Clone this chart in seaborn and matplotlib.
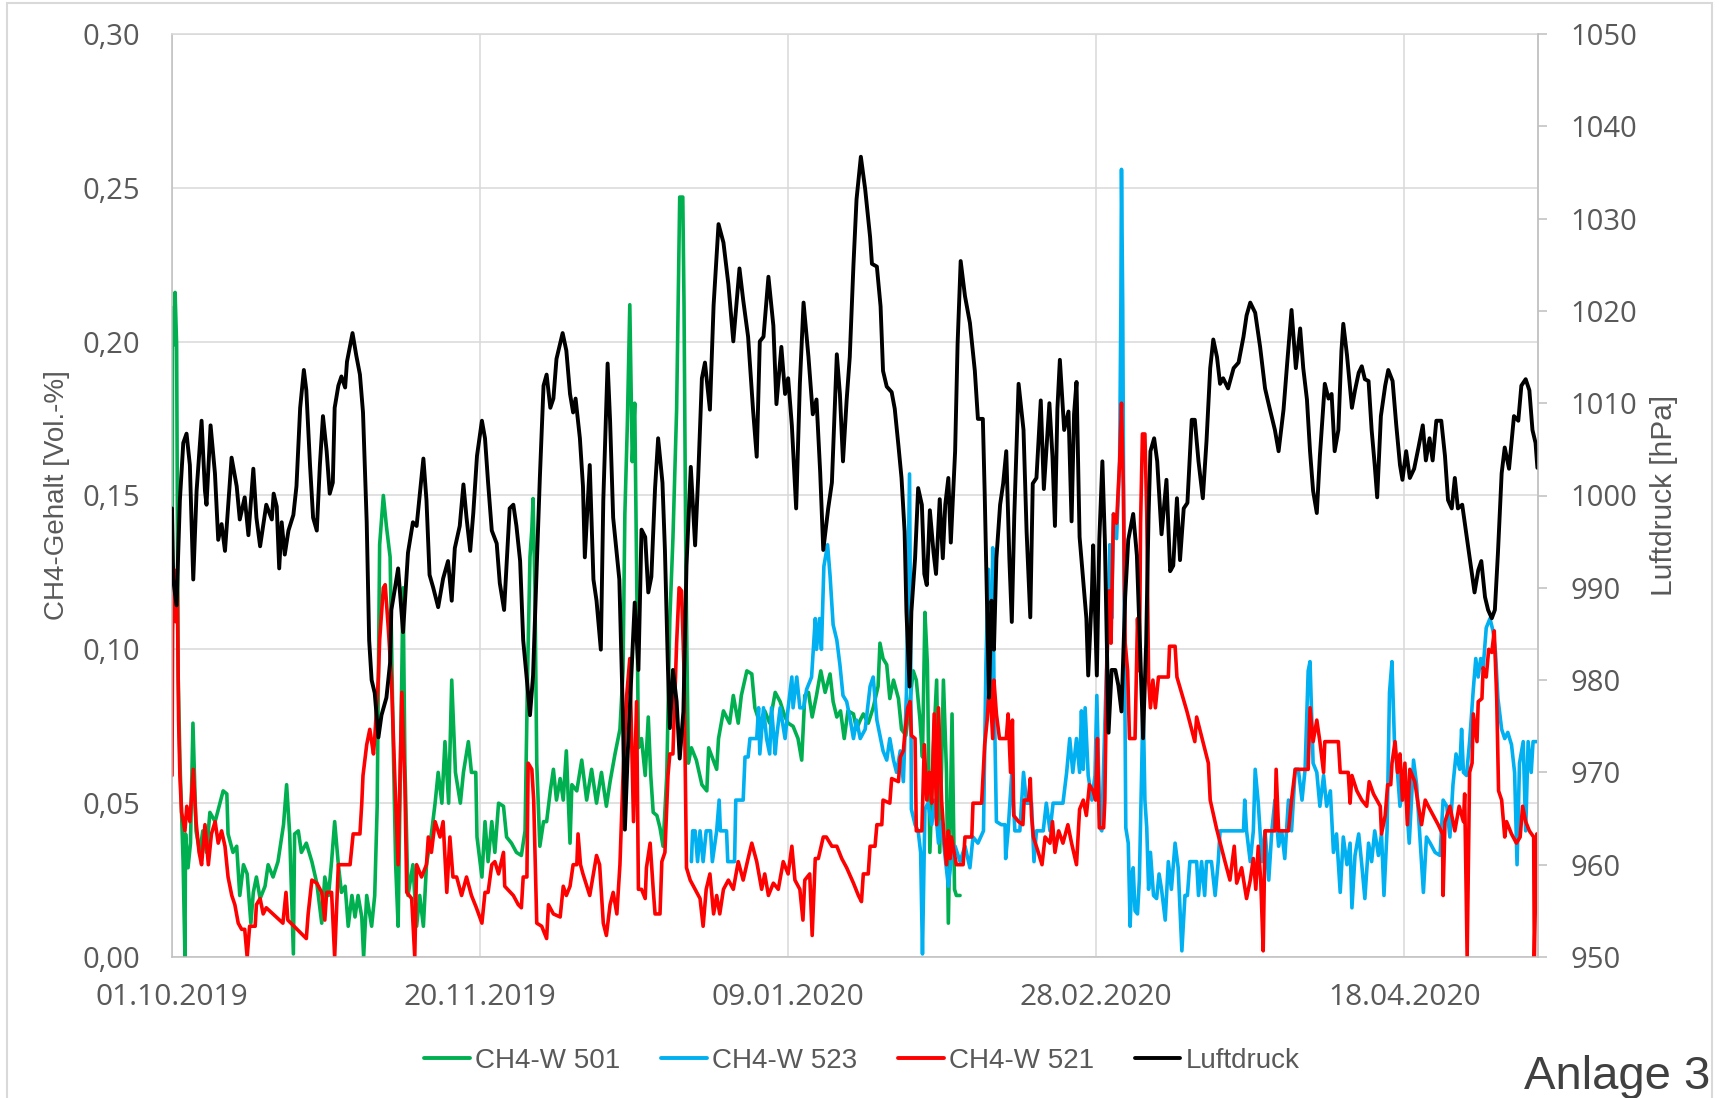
# ============================================================
# plot.py - CH4-Gehalt und Luftdruck (Anlage 3)
# ============================================================

import numpy as np
import pandas as pd
import matplotlib
matplotlib.use("Agg")
import matplotlib.pyplot as plt
from matplotlib.ticker import FuncFormatter, MultipleLocator
from matplotlib.lines import Line2D
from matplotlib.patches import Rectangle
import matplotlib.dates as mdates
import seaborn as sns

# ============================================================
# Data (days after 01.10.2019)
# ============================================================

START = pd.Timestamp("2019-10-01")
TICK_DAYS = [0, 50, 100, 150, 200]
X_END_DAYS = 221.7

p_days = [0.0, 0.2, 0.74, 1.28, 1.83, 2.36, 2.9, 3.45, 3.99, 4.8, 5.35, 5.6, 6.26, 6.97, 7.5, 8.05, 8.6, 9.67, 10.5, 11.0,
          11.8, 12.4, 13.2, 13.7, 14.3, 15.3, 16.2, 16.5, 17.0, 17.4, 17.8, 18.3, 18.9, 19.7, 20.2, 20.8, 21.4, 21.8, 22.4, 22.9,
          23.5, 24.0, 24.5, 25.1, 25.6, 26.1, 26.4, 27.0, 27.5, 28.1, 28.4, 29.3, 29.9, 30.5, 31.0, 31.6, 32.0, 32.4, 32.9, 33.5,
          34.0, 34.8, 35.4, 35.6, 36.2, 36.7, 37.5, 38.3, 39.1, 39.7, 40.8, 41.3, 41.8, 42.4, 43.2, 44.0, 44.8, 45.4, 45.9, 46.7,
          47.3, 47.8, 48.4, 48.9, 49.5, 50.3, 50.8, 51.3, 51.9, 52.7, 53.2, 53.9, 54.3, 54.8, 55.4, 55.9, 56.5, 57.0, 57.6, 58.1,
          58.6, 59.2, 59.7, 60.3, 60.8, 61.4, 61.9, 62.4, 63.4, 64.0, 64.6, 65.1, 65.5, 66.2, 66.7, 67.0, 67.8, 68.4, 68.9, 69.6,
          70.0, 70.7, 71.1, 71.6, 72.6, 73.2, 73.5, 74.0, 74.6, 75.1, 75.7, 76.2, 76.8, 77.3, 77.8, 78.4, 78.9, 79.6, 80.0, 80.5,
          80.8, 81.3, 81.9, 82.4, 83.0, 83.5, 84.2, 84.9, 85.4, 86.0, 86.5, 87.3, 87.9, 88.7, 89.5, 90.3, 91.1, 92.1, 92.7, 93.5,
          94.3, 94.9, 95.4, 96.0, 96.8, 97.6, 98.1, 98.9, 99.5, 100.0, 100.6, 101.3, 101.9, 102.5, 103.3, 104.0, 104.6, 105.2, 105.7, 106.5,
          107.1, 107.9, 108.4, 108.9, 109.5, 110.0, 110.6, 111.1, 111.8, 112.5, 113.3, 113.6, 114.4, 115.0, 115.4, 116.0, 116.8, 117.3, 117.9, 118.4,
          118.9, 119.2, 119.7, 120.0, 120.6, 121.1, 121.7, 122.1, 122.5, 123.0, 123.6, 124.0, 124.6, 125.1, 125.5, 126.0, 126.4, 127.1, 127.5, 128.0,
          128.7, 129.5, 130.3, 130.8, 131.6, 131.9, 132.3, 132.6, 133.0, 133.4, 133.8, 134.4, 134.9, 135.4, 135.9, 136.3, 136.7, 137.4, 138.2, 138.7,
          139.3, 139.7, 140.3, 141.0, 141.5, 142.4, 142.9, 143.3, 143.7, 144.1, 144.8, 145.5, 146.0, 146.4, 146.8, 147.3, 147.9, 148.4, 148.7, 149.3,
          149.5, 150.1, 150.5, 151.0, 151.4, 152.0, 152.5, 153.1, 153.6, 154.1, 154.7, 155.2, 156.0, 156.6, 157.1, 157.6, 158.1, 158.5, 158.8, 159.4,
          159.9, 160.6, 161.4, 162.0, 162.5, 163.1, 163.6, 164.2, 164.8, 165.5, 166.0, 166.6, 167.3, 167.9, 168.5, 169.0, 169.6, 170.1, 170.6, 171.4,
          172.3, 173.1, 173.9, 174.4, 175.0, 175.8, 176.6, 177.4, 178.2, 179.0, 179.6, 180.4, 181.0, 181.7, 182.4, 183.1, 183.6, 184.2, 184.7, 185.2,
          185.8, 186.3, 187.1, 187.7, 188.2, 188.7, 189.3, 189.8, 190.1, 190.7, 191.5, 192.0, 192.6, 193.1, 193.6, 194.2, 194.7, 195.2, 195.6, 196.2,
          196.9, 197.4, 198.1, 198.7, 199.3, 199.7, 200.3, 200.9, 201.6, 202.3, 203.0, 203.5, 204.1, 204.6, 205.2, 206.0, 206.6, 207.1, 207.7, 208.2,
          208.7, 209.4, 210.1, 210.6, 211.4, 212.0, 212.5, 213.1, 213.6, 214.2, 214.7, 215.2, 215.8, 216.3, 217.0, 217.8, 218.5, 219.0, 219.7, 220.3,
          220.8, 221.3, 221.6]
p_vals = [998.6, 990.9, 988.1, 999.5, 1005.7, 1006.7, 1003.3, 990.9, 1000.5, 1008.1, 1000.5, 999.0, 1007.6, 1002.4, 995.2, 996.9, 994.0, 1004.1, 1001.0, 997.4,
          999.8, 995.7, 1002.9, 997.6, 994.5, 999.0, 997.4, 1000.2, 998.8, 992.1, 997.1, 993.6, 996.2, 997.9, 1001.0, 1009.5, 1013.6, 1011.4, 1003.3, 997.6,
          996.2, 1003.3, 1008.6, 1004.8, 1000.2, 1001.4, 1009.5, 1011.9, 1012.9, 1011.7, 1014.5, 1017.6, 1015.2, 1013.1, 1009.0, 997.1, 984.3, 980.0, 978.6, 973.8,
          976.2, 978.1, 981.9, 987.6, 990.0, 992.1, 985.2, 993.8, 997.1, 996.7, 1004.0, 999.5, 991.4, 990.0, 987.9, 991.0, 992.9, 988.6, 994.3, 996.7,
          1001.2, 997.6, 994.0, 998.1, 1004.3, 1008.1, 1006.2, 1001.4, 996.2, 994.8, 990.5, 987.6, 992.4, 998.6, 999.0, 996.7, 992.9, 984.3, 980.0, 976.2,
          980.5, 992.4, 1001.9, 1011.9, 1013.1, 1009.5, 1010.5, 1014.8, 1017.6, 1015.7, 1011.0, 1009.0, 1010.5, 1006.2, 1001.0, 993.3, 1003.3, 990.9, 988.6, 983.3,
          999.5, 1014.3, 1008.1, 997.6, 990.9, 975.7, 963.8, 972.6, 981.1, 988.4, 981.1, 996.3, 995.5, 989.5, 991.2, 1000.8, 1006.2, 1001.4, 994.1, 981.1,
          974.8, 981.1, 977.7, 971.5, 976.6, 992.4, 1003.1, 994.6, 1002.0, 1012.7, 1014.4, 1009.3, 1020.6, 1029.4, 1027.4, 1022.9, 1016.7, 1024.6, 1021.2, 1017.2,
          1009.3, 1004.2, 1016.7, 1017.2, 1023.7, 1018.4, 1009.9, 1016.1, 1011.0, 1012.7, 1007.6, 998.6, 1012.1, 1020.9, 1015.0, 1008.8, 1010.4, 1002.5, 994.1, 998.6,
          1001.4, 1015.3, 1011.0, 1003.7, 1010.4, 1015.0, 1025.0, 1032.1, 1036.7, 1033.2, 1028.0, 1025.1, 1024.8, 1020.5, 1013.5, 1011.8, 1011.2, 1009.4, 1005.4, 1001.9,
          996.1, 987.4, 979.3, 987.4, 993.2, 1000.8, 999.0, 991.5, 990.3, 998.4, 993.8, 991.5, 999.6, 993.2, 999.0, 1001.9, 994.9, 1004.8, 1016.4, 1025.4,
          1021.6, 1018.7, 1013.5, 1008.3, 1008.3, 1000.2, 987.4, 978.1, 988.6, 983.3, 993.2, 999.0, 1001.3, 1004.8, 993.2, 986.3, 997.8, 1012.1, 1007.1, 996.1,
          986.8, 1001.3, 1001.9, 1010.3, 1000.7, 1010.0, 1004.2, 996.7, 1009.4, 1014.7, 1007.1, 1009.1, 997.2, 1008.8, 1012.3, 995.5, 990.7, 986.7, 980.5, 989.5,
          994.6, 980.5, 995.2, 1003.7, 995.2, 974.3, 981.1, 981.1, 979.4, 976.6, 989.0, 995.2, 998.0, 993.5, 983.9, 973.7, 983.9, 998.0, 1004.8, 1006.2,
          1003.7, 995.8, 1001.7, 991.8, 992.4, 999.7, 993.0, 998.6, 999.2, 1008.2, 1008.2, 1003.7, 999.7, 1005.9, 1013.8, 1016.9, 1015.0, 1012.1, 1012.7, 1011.6,
          1013.8, 1014.4, 1017.2, 1019.5, 1020.9, 1019.8, 1016.1, 1011.6, 1009.3, 1007.1, 1004.8, 1009.3, 1014.4, 1020.1, 1013.8, 1018.1, 1013.8, 1010.4, 1004.8, 1000.5,
          998.1, 1004.3, 1012.1, 1010.5, 1011.0, 1004.8, 1007.1, 1015.7, 1018.6, 1015.2, 1009.5, 1011.4, 1013.3, 1014.0, 1012.6, 1012.4, 1007.1, 1003.3, 999.8, 1008.6,
          1011.9, 1013.6, 1012.4, 1007.6, 1003.3, 1001.7, 1004.8, 1001.9, 1002.9, 1005.2, 1007.6, 1003.8, 1006.2, 1003.8, 1008.1, 1008.1, 1004.3, 999.5, 998.6, 1001.9,
          998.6, 999.0, 995.7, 993.3, 989.5, 991.9, 992.9, 989.0, 987.6, 986.7, 987.6, 993.8, 1002.4, 1005.2, 1002.9, 1008.6, 1008.1, 1011.9, 1012.6, 1011.4,
          1007.1, 1005.7, 1003.0]

w501_days = [0.0, 0.1, 0.3, 0.5, 0.75, 1.0, 1.3, 1.8, 2.1, 2.2, 2.6, 3.0, 3.4, 3.9, 4.5, 5.0, 5.6, 6.15, 7.0, 8.3,
             8.9, 9.1, 9.9, 10.5, 11.0, 11.6, 12.2, 12.8, 13.2, 13.7, 14.3, 15.1, 15.6, 16.4, 17.2, 18.1, 18.6, 19.1, 19.7, 19.9,
             20.5, 21.0, 21.8, 22.7, 23.5, 24.3, 24.8, 25.4, 25.9, 26.4, 27.0, 27.5, 28.1, 28.6, 29.2, 29.7, 30.2, 30.8, 31.1, 31.6,
             32.4, 32.9, 33.3, 33.7, 34.3, 34.8, 35.4, 35.9, 36.3, 36.7, 37.3, 37.5, 37.8, 38.3, 39.1, 39.7, 40.2, 40.8, 41.3, 42.1,
             42.7, 43.2, 43.8, 44.3, 44.9, 45.4, 46.0, 46.8, 47.3, 48.1, 48.6, 49.3, 49.5, 50.3, 50.8, 51.3, 51.9, 52.4, 53.0, 53.8,
             54.3, 55.1, 55.9, 56.7, 57.3, 57.7, 58.1, 58.4, 58.6, 58.9, 59.2, 59.7, 60.3, 60.8, 61.4, 61.9, 62.4, 63.0, 63.5, 64.0,
             64.6, 64.9, 65.7, 66.5, 67.3, 68.1, 68.9, 69.7, 70.5, 71.1, 71.9, 72.7, 73.2, 73.5, 73.9, 74.3, 74.7, 75.1, 75.4, 75.7,
             76.2, 76.8, 77.3, 77.7, 78.1, 78.7, 79.2, 79.7, 80.3, 80.8, 81.3, 81.9, 82.2, 82.4, 82.9, 83.1, 83.4, 83.8, 84.3, 85.1,
             86.0, 86.8, 87.1, 88.4, 88.7, 89.5, 90.5, 91.1, 91.9, 92.4, 93.3, 94.1, 94.6, 95.4, 96.2, 97.0, 97.9, 98.7, 99.5, 100.0,
             100.8, 101.6, 102.2, 102.7, 103.3, 103.9, 104.6, 105.3, 106.0, 106.8, 107.3, 107.9, 108.5, 109.1, 109.7, 110.6, 111.1, 111.7, 112.2, 113.0,
             113.8, 114.6, 114.9, 115.4, 116.0, 116.5, 117.1, 117.9, 118.4, 119.1, 119.8, 120.3, 120.8, 121.4, 121.8, 122.2, 122.6, 123.0, 123.6, 124.1,
             124.6, 125.2, 125.7, 126.0, 126.6, 127.0, 127.3, 127.9]
w501_vals = [0.109, 0.211, 0.199, 0.216, 0.199, 0.091, 0.063, 0.031, 0.0, 0.040, 0.029, 0.037, 0.076, 0.041, 0.034, 0.041, 0.034, 0.047, 0.044, 0.054,
             0.053, 0.040, 0.034, 0.036, 0.020, 0.030, 0.027, 0.011, 0.021, 0.026, 0.019, 0.023, 0.030, 0.026, 0.031, 0.043, 0.056, 0.040, 0.001, 0.040,
             0.041, 0.034, 0.037, 0.031, 0.024, 0.011, 0.026, 0.020, 0.031, 0.044, 0.030, 0.021, 0.023, 0.010, 0.020, 0.013, 0.020, 0.013, 0.0, 0.020,
             0.010, 0.020, 0.049, 0.134, 0.150, 0.140, 0.130, 0.070, 0.030, 0.010, 0.091, 0.120, 0.063, 0.020, 0.030, 0.010, 0.020, 0.010, 0.030, 0.040,
             0.050, 0.060, 0.050, 0.070, 0.050, 0.090, 0.060, 0.050, 0.060, 0.070, 0.060, 0.060, 0.039, 0.026, 0.044, 0.031, 0.044, 0.034, 0.050, 0.049,
             0.039, 0.037, 0.034, 0.033, 0.041, 0.091, 0.130, 0.139, 0.149, 0.120, 0.063, 0.036, 0.044, 0.044, 0.054, 0.061, 0.051, 0.058, 0.051, 0.067,
             0.037, 0.056, 0.054, 0.064, 0.051, 0.061, 0.050, 0.060, 0.049, 0.057, 0.066, 0.074, 0.093, 0.144, 0.173, 0.212, 0.161, 0.180, 0.127, 0.068,
             0.071, 0.059, 0.078, 0.059, 0.047, 0.046, 0.042, 0.036, 0.059, 0.110, 0.136, 0.178, 0.220, 0.247, 0.247, 0.212, 0.127, 0.063, 0.068, 0.064,
             0.056, 0.054, 0.068, 0.061, 0.071, 0.080, 0.076, 0.085, 0.076, 0.085, 0.093, 0.092, 0.081, 0.076, 0.080, 0.076, 0.086, 0.083, 0.078, 0.076,
             0.075, 0.071, 0.064, 0.085, 0.086, 0.078, 0.085, 0.093, 0.086, 0.092, 0.083, 0.078, 0.080, 0.071, 0.080, 0.079, 0.074, 0.077, 0.079, 0.076,
             0.081, 0.088, 0.102, 0.097, 0.095, 0.084, 0.090, 0.084, 0.074, 0.072, 0.084, 0.093, 0.090, 0.077, 0.065, 0.112, 0.095, 0.034, 0.069, 0.090,
             0.034, 0.090, 0.060, 0.011, 0.079, 0.022, 0.020, 0.020]

w523_days = [84.3, 84.5, 84.9, 85.3, 85.7, 86.2, 86.7, 87.4, 87.7, 88.4, 88.8, 89.0, 90.0, 90.2, 91.3, 91.5, 92.7, 93.0, 93.5, 93.8,
             94.9, 95.2, 95.4, 96.0, 96.5, 97.0, 97.3, 97.9, 98.1, 98.7, 99.5, 100.0, 100.6, 100.8, 101.4, 101.9, 102.5, 103.0, 103.8, 104.4,
             104.6, 105.1, 105.4, 105.8, 106.4, 106.8, 107.3, 107.9, 108.4, 108.9, 109.5, 110.0, 110.6, 111.1, 111.7, 112.5, 113.3, 113.8, 114.4, 114.9,
             115.4, 116.0, 116.5, 117.1, 117.6, 118.2, 118.7, 119.2, 119.7, 119.9, 120.0, 120.6, 121.1, 121.5, 121.8, 122.2, 122.7, 123.3, 123.8, 124.4,
             124.9, 125.4, 126.0, 126.5, 127.1, 127.9, 128.7, 129.5, 130.0, 130.8, 131.7, 132.1, 132.5, 132.9, 133.2, 133.4, 133.8, 134.6, 135.2, 135.3,
             135.7, 136.3, 136.8, 137.6, 138.2, 138.7, 139.5, 139.9, 140.3, 141.4, 141.9, 142.5, 143.0, 143.8, 144.6, 145.2, 145.7, 146.2, 146.8, 147.3,
             147.6, 147.9, 148.2, 148.7, 149.3, 149.8, 150.1, 150.6, 150.9, 151.4, 152.0, 152.2, 152.5, 152.8, 153.3, 153.8, 154.0, 154.1, 154.3, 154.5,
             154.8, 155.2, 155.5, 155.8, 156.0, 156.3, 156.7, 157.0, 157.4, 157.6, 157.9, 158.2, 158.5, 158.8, 159.3, 159.8, 160.2, 160.6, 161.2, 161.7,
             162.2, 162.8, 163.3, 163.9, 164.4, 164.8, 165.2, 166.3, 166.6, 167.1, 167.6, 167.9, 168.7, 169.3, 169.8, 170.1, 171.2, 172.3, 173.9, 174.1,
             174.4, 175.0, 175.5, 175.8, 176.3, 176.9, 177.4, 178.0, 178.5, 179.0, 179.6, 180.1, 180.6, 181.2, 181.7, 182.3, 182.8, 183.4, 183.9, 184.4,
             184.7, 185.2, 185.8, 186.3, 186.9, 187.4, 188.0, 188.5, 189.0, 189.6, 190.1, 190.7, 191.2, 191.5, 192.0, 192.6, 193.1, 193.6, 194.2, 194.7,
             195.2, 195.8, 196.3, 196.7, 197.2, 197.6, 198.0, 198.4, 198.9, 199.3, 199.9, 200.4, 200.8, 201.5, 202.0, 202.5, 203.1, 203.6, 204.2, 205.0,
             205.8, 206.3, 206.9, 207.4, 207.9, 208.4, 209.0, 209.3, 209.6, 210.1, 210.6, 211.2, 211.6, 212.0, 212.4, 212.8, 213.3, 213.9, 214.4, 214.8,
             215.2, 215.8, 216.3, 216.8, 217.4, 217.9, 218.3, 218.7, 219.3, 219.7, 220.1, 220.6, 220.9, 221.5]
w523_vals = [0.031, 0.041, 0.041, 0.031, 0.041, 0.031, 0.041, 0.041, 0.031, 0.041, 0.051, 0.041, 0.041, 0.031, 0.031, 0.051, 0.051, 0.065, 0.065, 0.071,
             0.071, 0.081, 0.066, 0.081, 0.071, 0.066, 0.081, 0.066, 0.071, 0.081, 0.071, 0.081, 0.091, 0.081, 0.091, 0.081, 0.081, 0.087, 0.091, 0.110,
             0.100, 0.110, 0.100, 0.127, 0.134, 0.124, 0.108, 0.103, 0.095, 0.085, 0.083, 0.078, 0.071, 0.077, 0.071, 0.074, 0.088, 0.091, 0.077, 0.072,
             0.067, 0.064, 0.071, 0.064, 0.060, 0.067, 0.057, 0.086, 0.157, 0.095, 0.048, 0.043, 0.041, 0.034, 0.001, 0.048, 0.050, 0.043, 0.051, 0.037,
             0.044, 0.034, 0.023, 0.032, 0.036, 0.031, 0.036, 0.029, 0.039, 0.037, 0.041, 0.095, 0.126, 0.081, 0.133, 0.090, 0.044, 0.043, 0.043, 0.032,
             0.041, 0.060, 0.041, 0.041, 0.060, 0.050, 0.050, 0.031, 0.041, 0.041, 0.050, 0.041, 0.050, 0.050, 0.050, 0.060, 0.071, 0.060, 0.071, 0.060,
             0.080, 0.061, 0.081, 0.059, 0.051, 0.059, 0.085, 0.042, 0.041, 0.076, 0.114, 0.134, 0.110, 0.144, 0.136, 0.161, 0.212, 0.256, 0.212, 0.127,
             0.042, 0.037, 0.010, 0.027, 0.029, 0.015, 0.014, 0.025, 0.063, 0.085, 0.051, 0.042, 0.022, 0.034, 0.020, 0.019, 0.027, 0.022, 0.012, 0.031,
             0.022, 0.037, 0.029, 0.002, 0.020, 0.020, 0.031, 0.031, 0.020, 0.031, 0.020, 0.031, 0.031, 0.020, 0.031, 0.041, 0.041, 0.041, 0.041, 0.051,
             0.041, 0.031, 0.041, 0.061, 0.050, 0.031, 0.041, 0.025, 0.041, 0.051, 0.036, 0.041, 0.032, 0.051, 0.041, 0.061, 0.061, 0.051, 0.061, 0.093,
             0.096, 0.063, 0.060, 0.049, 0.059, 0.049, 0.054, 0.034, 0.040, 0.021, 0.039, 0.030, 0.037, 0.016, 0.033, 0.040, 0.030, 0.019, 0.037, 0.031,
             0.041, 0.033, 0.040, 0.020, 0.041, 0.086, 0.096, 0.070, 0.060, 0.049, 0.059, 0.049, 0.037, 0.064, 0.056, 0.040, 0.021, 0.039, 0.037, 0.034,
             0.033, 0.051, 0.049, 0.039, 0.056, 0.066, 0.061, 0.074, 0.060, 0.059, 0.070, 0.087, 0.097, 0.091, 0.097, 0.094, 0.107, 0.110, 0.106, 0.099,
             0.084, 0.074, 0.071, 0.073, 0.069, 0.060, 0.030, 0.063, 0.070, 0.041, 0.070, 0.060, 0.070, 0.070]

w521_days = [0.0, 0.1, 0.3, 0.6, 0.85, 1.07, 1.28, 1.55, 2.1, 2.4, 2.9, 3.45, 3.9, 4.4, 4.8, 5.35, 5.9, 6.4, 7.0, 7.5,
             8.05, 8.6, 9.1, 9.7, 10.2, 10.75, 11.3, 11.8, 12.2, 12.6, 13.5, 13.7, 14.3, 14.8, 15.3, 18.0, 18.5, 18.8, 21.8, 22.1,
             22.7, 23.5, 24.3, 24.8, 25.1, 25.9, 26.4, 27.0, 28.9, 29.4, 30.5, 30.8, 31.0, 31.6, 32.1, 32.7, 32.9, 33.5, 33.7, 34.3,
             34.6, 35.1, 35.6, 36.2, 36.7, 37.3, 37.8, 38.1, 38.9, 39.4, 39.7, 40.5, 41.3, 41.6, 42.1, 42.7, 43.5, 44.0, 44.6, 45.1,
             45.6, 46.2, 47.0, 47.8, 48.6, 49.4, 50.3, 50.8, 51.3, 51.9, 52.4, 53.0, 53.8, 54.0, 55.4, 56.2, 56.7, 57.0, 57.6, 57.8,
             58.4, 58.7, 59.2, 60.0, 60.8, 61.1, 61.9, 63.0, 63.5, 64.0, 64.6, 65.1, 65.7, 65.9, 66.3, 66.7, 67.8, 68.9, 69.4, 70.0,
             70.5, 71.1, 71.6, 72.2, 72.7, 73.2, 73.8, 74.3, 74.9, 75.4, 75.7, 76.2, 76.8, 77.0, 77.6, 78.1, 78.4, 79.2, 79.5, 80.0,
             80.5, 80.8, 81.3, 81.9, 82.3, 82.7, 83.1, 83.5, 84.1, 84.9, 85.7, 86.2, 86.7, 87.3, 87.9, 88.4, 88.9, 89.5, 90.3, 91.1,
             91.9, 92.7, 93.5, 94.1, 94.9, 95.7, 96.2, 96.8, 97.6, 98.4, 99.2, 100.0, 100.6, 101.1, 101.9, 102.4, 102.7, 103.5, 103.9, 104.4,
             104.9, 105.7, 106.2, 107.1, 107.9, 108.7, 109.5, 110.6, 111.4, 111.9, 112.2, 113.0, 113.3, 114.1, 114.4, 115.2, 115.4, 116.5, 116.8, 117.9,
             118.2, 118.7, 119.0, 119.4, 119.8, 120.0, 120.6, 120.8, 121.7, 122.1, 122.5, 122.9, 123.3, 123.7, 124.1, 124.4, 124.9, 125.3, 125.7, 126.0,
             126.3, 126.5, 127.3, 128.4, 128.7, 129.8, 130.0, 131.4, 131.9, 132.3, 132.7, 133.2, 133.4, 133.8, 134.3, 135.4, 135.7, 136.1, 136.4, 136.6,
             137.4, 138.1, 138.3, 139.0, 139.3, 139.5, 139.8, 140.6, 141.2, 141.7, 142.5, 142.9, 143.3, 143.9, 144.6, 145.4, 146.0, 146.8, 147.3, 147.9,
             148.4, 148.9, 149.5, 149.9, 150.2, 150.5, 151.2, 151.4, 151.7, 152.1, 152.4, 152.8, 153.3, 153.8, 154.1, 154.4, 154.7, 155.1, 155.4, 156.3,
             156.7, 157.0, 157.2, 157.5, 157.9, 158.2, 158.5, 158.8, 159.2, 159.6, 160.1, 161.7, 161.9, 162.8, 163.1, 164.7, 166.0, 166.3, 168.2, 168.5,
             169.5, 170.9, 171.7, 172.4, 172.8, 173.6, 174.4, 175.0, 175.5, 175.9, 176.3, 176.7, 177.1, 177.4, 179.0, 179.2, 179.6, 181.2, 181.7, 182.3,
             184.4, 184.7, 185.2, 185.8, 186.3, 186.9, 187.1, 189.3, 189.6, 190.9, 191.2, 191.5, 192.3, 193.1, 193.9, 194.3, 195.0, 196.1, 196.3, 196.9,
             197.3, 197.8, 198.0, 198.5, 198.9, 199.3, 199.7, 200.1, 200.5, 200.9, 201.7, 202.3, 202.8, 203.4, 203.9, 204.7, 205.5, 206.2, 206.3, 206.6,
             207.4, 208.2, 208.9, 209.6, 209.8, 210.2, 210.6, 211.0, 211.2, 211.8, 212.0, 212.6, 212.8, 213.3, 213.7, 214.2, 214.6, 215.0, 215.3, 215.8,
             216.3, 216.6, 217.4, 218.2, 218.8, 219.2, 219.7, 220.3, 221.0, 221.1, 221.5]
w521_vals = [0.059, 0.106, 0.126, 0.109, 0.123, 0.077, 0.059, 0.047, 0.041, 0.049, 0.044, 0.061, 0.044, 0.034, 0.030, 0.043, 0.030, 0.040, 0.044, 0.037,
             0.041, 0.036, 0.026, 0.020, 0.017, 0.011, 0.009, 0.009, 0.0, 0.010, 0.010, 0.017, 0.019, 0.014, 0.016, 0.011, 0.021, 0.012, 0.006, 0.014,
             0.025, 0.024, 0.021, 0.012, 0.021, 0.021, 0.0, 0.030, 0.030, 0.040, 0.040, 0.050, 0.059, 0.069, 0.074, 0.066, 0.071, 0.091, 0.103, 0.120,
             0.121, 0.107, 0.091, 0.056, 0.030, 0.086, 0.056, 0.021, 0.019, 0.0, 0.030, 0.026, 0.030, 0.039, 0.034, 0.044, 0.039, 0.044, 0.021, 0.039,
             0.026, 0.026, 0.020, 0.026, 0.020, 0.016, 0.011, 0.021, 0.021, 0.030, 0.031, 0.027, 0.034, 0.023, 0.020, 0.017, 0.016, 0.026, 0.026, 0.063,
             0.061, 0.051, 0.011, 0.010, 0.006, 0.017, 0.014, 0.013, 0.023, 0.020, 0.023, 0.030, 0.030, 0.040, 0.030, 0.027, 0.020, 0.033, 0.030, 0.011,
             0.007, 0.017, 0.021, 0.014, 0.030, 0.059, 0.085, 0.097, 0.044, 0.083, 0.022, 0.022, 0.019, 0.029, 0.037, 0.022, 0.014, 0.014, 0.031, 0.034,
             0.059, 0.066, 0.066, 0.102, 0.120, 0.119, 0.093, 0.029, 0.025, 0.022, 0.019, 0.010, 0.022, 0.027, 0.014, 0.020, 0.014, 0.022, 0.025, 0.022,
             0.031, 0.025, 0.032, 0.037, 0.031, 0.022, 0.027, 0.020, 0.024, 0.022, 0.031, 0.027, 0.036, 0.025, 0.022, 0.012, 0.025, 0.027, 0.007, 0.032,
             0.032, 0.039, 0.039, 0.036, 0.036, 0.032, 0.029, 0.024, 0.020, 0.018, 0.027, 0.027, 0.036, 0.036, 0.043, 0.043, 0.051, 0.050, 0.058, 0.057,
             0.065, 0.067, 0.074, 0.081, 0.083, 0.072, 0.071, 0.041, 0.041, 0.069, 0.051, 0.060, 0.050, 0.079, 0.043, 0.081, 0.051, 0.039, 0.030, 0.041,
             0.032, 0.039, 0.030, 0.030, 0.039, 0.039, 0.050, 0.050, 0.069, 0.077, 0.090, 0.071, 0.090, 0.079, 0.071, 0.071, 0.079, 0.060, 0.077, 0.046,
             0.044, 0.043, 0.051, 0.051, 0.058, 0.046, 0.039, 0.034, 0.030, 0.039, 0.037, 0.044, 0.034, 0.041, 0.037, 0.043, 0.037, 0.030, 0.048, 0.051,
             0.046, 0.056, 0.054, 0.051, 0.071, 0.042, 0.042, 0.051, 0.093, 0.119, 0.102, 0.144, 0.141, 0.161, 0.180, 0.153, 0.102, 0.093, 0.071, 0.071,
             0.110, 0.093, 0.141, 0.170, 0.170, 0.144, 0.090, 0.081, 0.090, 0.081, 0.091, 0.091, 0.101, 0.101, 0.091, 0.080, 0.070, 0.078, 0.063, 0.051,
             0.042, 0.031, 0.025, 0.036, 0.024, 0.029, 0.019, 0.025, 0.032, 0.022, 0.036, 0.025, 0.002, 0.041, 0.041, 0.061, 0.041, 0.041, 0.051, 0.061,
             0.061, 0.081, 0.070, 0.077, 0.070, 0.060, 0.070, 0.070, 0.060, 0.060, 0.050, 0.059, 0.054, 0.051, 0.049, 0.057, 0.053, 0.049, 0.040, 0.046,
             0.056, 0.056, 0.063, 0.070, 0.060, 0.066, 0.051, 0.063, 0.043, 0.061, 0.057, 0.049, 0.043, 0.051, 0.049, 0.046, 0.043, 0.040, 0.020, 0.044,
             0.049, 0.041, 0.049, 0.044, 0.053, 0.0, 0.060, 0.063, 0.079, 0.070, 0.083, 0.084, 0.094, 0.091, 0.100, 0.099, 0.106, 0.084, 0.054, 0.051,
             0.039, 0.044, 0.040, 0.037, 0.039, 0.049, 0.044, 0.041, 0.039, 0.0, 0.040]

# ============================================================
# Style
# ============================================================

GRID = "#d9d9d9"
AXIS = "#bfbfbf"
TEXT = "#595959"
SERIES = [
    ("CH4-W 501", w501_days, w501_vals, "#00b050"),
    ("CH4-W 523", w523_days, w523_vals, "#00b0f0"),
    ("CH4-W 521", w521_days, w521_vals, "#ff0000"),
]
W, H = 1719, 1098


def to_dates(days):
    return START + pd.to_timedelta(np.asarray(days, dtype=float), unit="D")


def comma_fmt(v, pos):
    return f"{v:.2f}".replace(".", ",")


# ============================================================
# Plot
# ============================================================

sns.set_style("white")
plt.rcParams["font.family"] = ["Open Sans", "DejaVu Sans"]

fig = plt.figure(figsize=(W / 100, H / 100), dpi=100)
ax = fig.add_axes([172 / W, 1 - 957 / H, 1366 / W, 923 / H])
ax2 = ax.twinx()

for label, days, vals, color in SERIES:
    sns.lineplot(x=to_dates(days), y=vals, ax=ax, color=color, linewidth=2.6,
                 estimator=None, sort=False, legend=False)

sns.lineplot(x=to_dates(p_days), y=p_vals, ax=ax2, color="black", linewidth=2.8,
             estimator=None, sort=False, legend=False)

# axes ranges
ax.set_xlim(START, START + pd.Timedelta(days=X_END_DAYS))
ax.set_ylim(0, 0.30)
ax2.set_ylim(950, 1050)

# ticks
ax.set_xticks(to_dates(TICK_DAYS))
ax.xaxis.set_major_formatter(mdates.DateFormatter("%d.%m.%Y"))
ax.yaxis.set_major_locator(MultipleLocator(0.05))
ax.yaxis.set_major_formatter(FuncFormatter(comma_fmt))
ax2.yaxis.set_major_locator(MultipleLocator(10))

ax.tick_params(axis="y", length=0, pad=23, labelsize=21, labelcolor=TEXT)
ax.tick_params(axis="x", length=0, pad=19, labelsize=21.5, labelcolor=TEXT)
ax2.tick_params(axis="y", direction="out", length=6.5, width=1.1, color=AXIS,
                pad=17, labelsize=21, labelcolor=TEXT)

# grid
ax.set_axisbelow(True)
ax.grid(True, color=GRID, linewidth=1.1)

for name, spine in ax.spines.items():
    spine.set_color(AXIS if name in ("left", "bottom") else GRID)
    spine.set_linewidth(1.1)
for name, spine in ax2.spines.items():
    spine.set_visible(name == "right")
    spine.set_color(AXIS)
    spine.set_linewidth(1.1)

# axis labels
ax.set_xlabel("")
ax.set_ylabel("CH4-Gehalt [Vol.-%]", fontsize=20, color=TEXT,
              family=["Liberation Sans", "DejaVu Sans"], va="center")
ax.yaxis.set_label_coords((57 - 172) / 1366, 0.5)
ax2.set_ylabel("Luftdruck [hPa]", fontsize=21.5, color=TEXT,
               family=["Liberation Sans", "DejaVu Sans"], va="center", rotation=90)
ax2.yaxis.set_label_coords((1664 - 172) / 1366, 0.5)

# legend
handles = [Line2D([], [], color=c, linewidth=2.8) for _, _, _, c in SERIES]
handles.append(Line2D([], [], color="black", linewidth=2.8))
labels = [s[0] for s in SERIES] + ["Luftdruck"]
fig.legend(handles, labels, loc="center", bbox_to_anchor=(862 / W, 1 - 1061 / H),
           ncol=4, frameon=False, handlelength=1.65, handletextpad=0.2,
           columnspacing=1.45, prop={"family": ["Liberation Sans", "DejaVu Sans"], "size": 20},
           labelcolor=TEXT)

# outer frame and annex note
fig.patches.append(Rectangle((7 / W, -0.02), 1705 / W, 1.02 - 3 / H, transform=fig.transFigure,
                             fill=False, edgecolor=GRID, linewidth=1.5))
fig.text(1710 / W, 1 - 1089 / H, "Anlage 3", ha="right", va="baseline", fontsize=34,
         color="#404040", family=["Liberation Sans", "DejaVu Sans"])

fig.savefig("out.png", dpi=100)
plt.close(fig)
